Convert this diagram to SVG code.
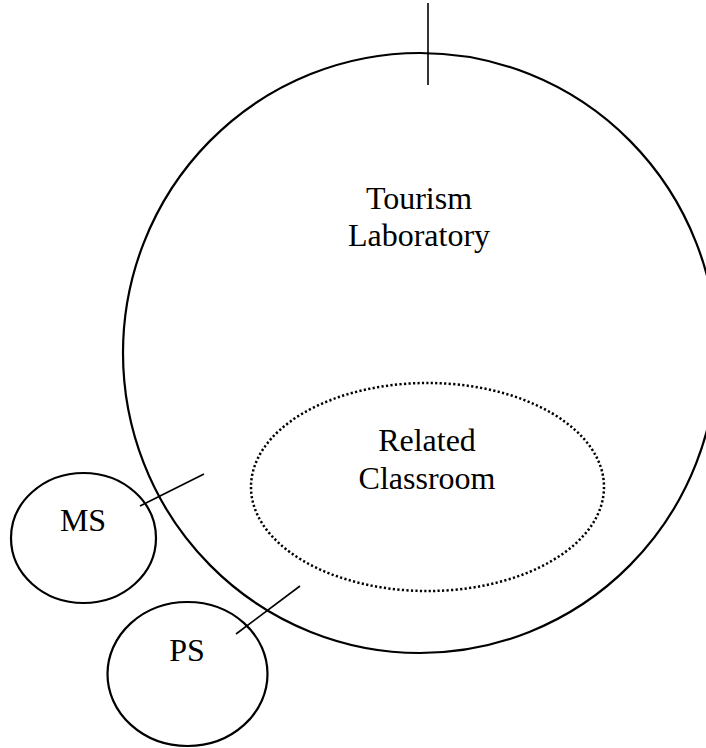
<svg xmlns="http://www.w3.org/2000/svg" width="706" height="748" viewBox="0 0 706 748">
<style>
.shape{fill:none;stroke:#000;stroke-width:2.2}
.dotted{fill:none;stroke:#000;stroke-width:2.5;stroke-dasharray:2.2 2.3}
.conn{stroke:#000;stroke-width:1.6;fill:none}
.lbl{font-family:"Liberation Serif","Times New Roman",serif;font-size:32px;fill:#000;text-anchor:middle}
</style>
<rect width="706" height="748" fill="#fff"/>
<g id="tourism-laboratory">
<ellipse class="shape" cx="420" cy="353" rx="297" ry="300"/>
<text class="lbl" x="419" y="209">Tourism</text>
<text class="lbl" x="419" y="246">Laboratory</text>
</g>
<g id="related-classroom">
<ellipse class="dotted" cx="427.5" cy="487" rx="176.5" ry="104"/>
<text class="lbl" x="427" y="451">Related</text>
<text class="lbl" x="427" y="489">Classroom</text>
</g>
<g id="ms">
<ellipse class="shape" cx="83.5" cy="538" rx="72.5" ry="65"/>
<text class="lbl" x="83" y="531">MS</text>
</g>
<g id="ps">
<ellipse class="shape" cx="187.5" cy="674" rx="80" ry="72"/>
<text class="lbl" x="187" y="661">PS</text>
</g>
<g id="connectors">
<line class="conn" x1="428" y1="3" x2="428" y2="85"/>
<line class="conn" x1="140" y1="506" x2="204" y2="474"/>
<line class="conn" x1="236" y1="634" x2="300" y2="586"/>
</g>
</svg>
